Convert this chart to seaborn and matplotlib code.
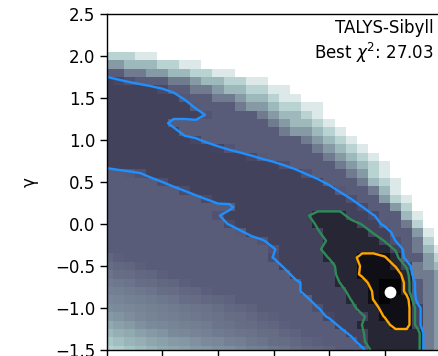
import numpy as np
import pandas as pd
import matplotlib
matplotlib.use("Agg")
import matplotlib.pyplot as plt
import seaborn as sns

# ---------------- data ----------------
# scan grid: columns = log10(R_cut / V), rows = spectral index gamma (top -> bottom)
log10_rcut = np.round(18.0 + 0.04 * np.arange(31), 2)
gamma = np.round(2.5 - 0.1 * np.arange(41), 1)

# Delta-chi2 level per grid point (0 = best fit, rising to 9, W = off scale),
# one run-length-encoded row per gamma value, top (2.5) to bottom (-1.5)
level_rows = [
    "W*31",
    "W*31",
    "W*31",
    "W*31",
    "W*31",
    "8*3 9*2 W*26",
    "6*2 7*3 8*2 9*2 W*22",
    "4 4.3 5*2 6*2 7*2 8*2 9*2 W*19",
    "3 3.3 3.6 3.85 4.1 4.4 5*2 6 7*2 8*2 9*2 W*16",
    "3*2 2.6 2.85 3.1 3.4 3.85 4 5*2 6 7*2 8*2 9*2 W*14",
    "3*6 2.85 3.7 4*2 5*2 6 7*2 8 9*2 W*13",
    "3*7 2.7 3.75 4*3 5 6*2 7 8*2 9*2 W*11",
    "3*8 2.75 3.65 4*4 5 6 7*2 8 9 W*11",
    "3*6 4*9 5 6 7*2 8 9 W*10",
    "3*7 4 4.2 4*7 5 6*2 7 8 9 W*9",
    "3*8 3.3 3.8 4.25 4*7 5 6 7 8 9 W*8",
    "3*9 2.8 3.25 3.65 4 4.35 4*5 5 6 7 8 9 W*7",
    "3*11 2.65 3 3.35 3.75 4.1 4*4 5 6 7 8 9 W*6",
    "3.15 2.95 2.8 2.6 3*10 2.75 3.1 3.52 4*4 5 6 7 8 9 W*5",
    "4.15 3.95 3.75 3.56 3*12 2.6 3 3.58 4.15 4*2 5 6 8 9 W*5",
    "4*5 3.49 2.95 3*11 2.6 3.15 3.85 4*2 5 7 8 9 W*4",
    "4*5 4.5 3.95 3.44 2.92 3*11 2.85 3.7 4*2 5 7 9 W*4",
    "4*7 4.45 3.92 3.42 2.93 3*10 2.7 3.52 4.45 4 6 8 9 W*3",
    "4*9 4.4 3.93 3.8 3*10 2.6 3.45 4.43 4 6 8 W*3",
    "4*10 3.6 3*7 2.63 2*3 3*2 3.43 4*2 7 9 W*2",
    "4*11 3.42 2.75 3*6 2.32 2*3 2.57 3 3.74 4 5 8 W*2",
    "4*11 4.42 3.75 3.07 2.63 3*4 2.62 2*4 2.57 2.74 4*2 6 9 W",
    "4*13 4.07 3.63 3*5 2.32 2*4 2.53 3.52 4 5 8 W",
    "4*15 3.6 3*3 2.69 2*6 2.6 4 5 7 9",
    "4.3 4.1 4*13 3.45 3*4 2.45 2*2 1*2 1.42 2 4*2 6 8",
    "4.5 4.4 4.3 4.1 4*11 4.45 3.2 3*4 2.07 2 1.37 1*2 1.55 2.66 5 6 7",
    "4.8 4.6 4.5 4.4 4.3 4.1 4*10 4.2 2.87 3*3 2.21 2 1.29 1*3 2 5 5 6",
    "5 4.9 4.8 4.6 4.5 4.4 4.3 4.1 4*9 3.87 3*3 2.48 2*2 1 0*2 2 4 5 6",
    "5.2 5.1 5 4.9 4.8 4.6 4.5 4.4 4.3 4.1 4*8 2.83 3*3 2.06 2 1.43 0*2 2 4 5 6",
    "5.4 5.3 5.2 5.1 5 4.9 4.8 4.6 4.5 4.4 4.3 4.2 4*6 3.83 2.6 3*2 2.48 2 1.48 0 1*2 4 5 6",
    "5.6 5.5 5.4 5.3 5.2 5.1 5 4.9 4.8 4.7 4.6 4.4 4.3 4.2 4*5 3.55 3*2 2.88 2*2 1*3 3 5 6",
    "6 5.8 5.6 5.4 5.3 5.2 5.1 5 4.9 4.8 4.7 4.6 4.5 4.4 4.2 4.1 4*4 3.3 3*2 2.66 2 1.45 1*2 3 5 6",
    "6.5 6.2 6 5.7 5.5 5.4 5.3 5.2 5.1 5 4.8 4.7 4.6 4.5 4.4 4.3 4.1 4*3 4.3 3.18 3 2.48 2*2 1*2 3 5 6",
    "7 6.7 6.5 6.2 6 5.8 5.5 5.4 5.3 5.2 5 4.9 4.8 4.7 4.6 4.5 4.3 4.2 4*3 4.18 3.13 2.59 2*5 5 6",
    "7.5 7.2 6.9 6.7 6.4 6.2 6 5.9 5.7 5.5 5.4 5.2 5.1 4.9 4.8 4.6 4.5 4.4 4.2 4.1 4*2 4.13 2.66 2*5 5 6",
    "7.9 7.7 7.4 7.1 6.8 6.5 6.4 6.2 6 5.9 5.7 5.6 5.4 5.2 5.1 4.9 4.8 4.6 4.4 4.3 4.2 4*2 3.9 2*5 5 6",
]
OFF_SCALE = 10.0

best_chi2 = 27.03
best_log10_rcut = 19.02
best_gamma = -0.81
model_name = "TALYS-Sibyll"

contour_levels = [1.5, 2.5, 3.5]            # 1, 2, 3 sigma
contour_colors = ["#ffa500", "#2e8b57", "#1e90ff"]
# shade used inside each confidence region (best, 1 sigma, 2 sigma, 3 sigma)
region_shades = [0.2, 0.7, 1.7, 3.0]
ytick_values = [2.5, 2.0, 1.5, 1.0, 0.5, 0.0, -0.5, -1.0, -1.5]
xtick_values = [18.0, 18.2, 18.4, 18.6, 18.8, 19.0, 19.2]


def expand(row, ncol=31):
    out = []
    for tok in row.split():
        val, _, n = tok.partition("*")
        v = OFF_SCALE if val == "W" else float(val)
        out += [v] * (int(n) if n else 1)
    out = (out + [out[-1]] * ncol)[:ncol]
    return out


grid = np.array([expand(r) for r in level_rows])

# colour shown per cell: one shade per confidence region, raw level outside,
# a soft step across the 3 sigma edge
shade = grid.copy()
edge = (grid > 2.5) & (grid < 4.0)
shade[edge] = region_shades[3] + np.clip((grid[edge] - 3.2) / 0.6, 0, 1)
inside = np.pad(grid < 3.5, 1, constant_values=False)
touch = inside[:-2, 1:-1] | inside[2:, 1:-1] | inside[1:-1, :-2] | inside[1:-1, 2:]
shade[touch & (grid >= 4.0) & (grid < 4.6)] = 4.0
shade[(grid > 1.5) & (grid <= 2.5)] = region_shades[2]
shade[(grid > 0.5) & (grid <= 1.5)] = region_shades[1]
shade[grid <= 0.5] = region_shades[0]
df = pd.DataFrame(shade, index=gamma, columns=log10_rcut)

dx = 0.04
dy = 0.1


def xpos(v):
    return (v - log10_rcut[0]) / dx + 0.5


def ypos(v):
    return (gamma[0] - v) / dy + 0.5


# ---------------- figure ----------------
fig = plt.figure(figsize=(4.39, 3.56), dpi=100)
ax = fig.add_axes([107 / 439, 6 / 356, 335 / 439, 336 / 356])

sns.heatmap(df, cmap="bone", vmin=0, vmax=OFF_SCALE, cbar=False, ax=ax,
            linewidths=0, xticklabels=False, yticklabels=False)

xc = np.arange(grid.shape[1]) + 0.5
yc = np.arange(grid.shape[0]) + 0.5
for lev, col in zip(contour_levels, contour_colors):
    ax.contour(xc, yc, grid, levels=[lev], colors=[col], linewidths=1.7)

ax.plot(xpos(best_log10_rcut), ypos(best_gamma), "o", color="white",
        mec="white", ms=7.5, zorder=10)

ax.set_xlim(0.5, 0.5 + 335 / 11.1)
ax.set_ylim(ypos(-1.5), ypos(2.5))

ax.set_xticks([xpos(v) for v in xtick_values])
ax.set_xticklabels([])
ax.set_yticks([ypos(v) for v in ytick_values])
ax.set_yticklabels([f"{v:.1f}".replace("-", "\u2212") for v in ytick_values],
                   rotation=0, fontsize=12)

for s in ax.spines.values():
    s.set_visible(True)
    s.set_linewidth(1.0)
    s.set_color("black")

ax.tick_params(axis="both", direction="out", length=5, width=1,
               left=True, bottom=True, labelsize=12, colors="black")
ax.set_xlabel("")
ax.set_ylabel("\u03b3", fontsize=12)
ax.yaxis.set_label_coords(-0.205, 0.5)

ax.text(0.976, 0.985, f"{model_name}\nBest $\\chi^2$: {best_chi2:.2f}",
        transform=ax.transAxes, ha="right", va="top", fontsize=12,
        multialignment="right", color="black")

fig.savefig("out.png", dpi=100)
